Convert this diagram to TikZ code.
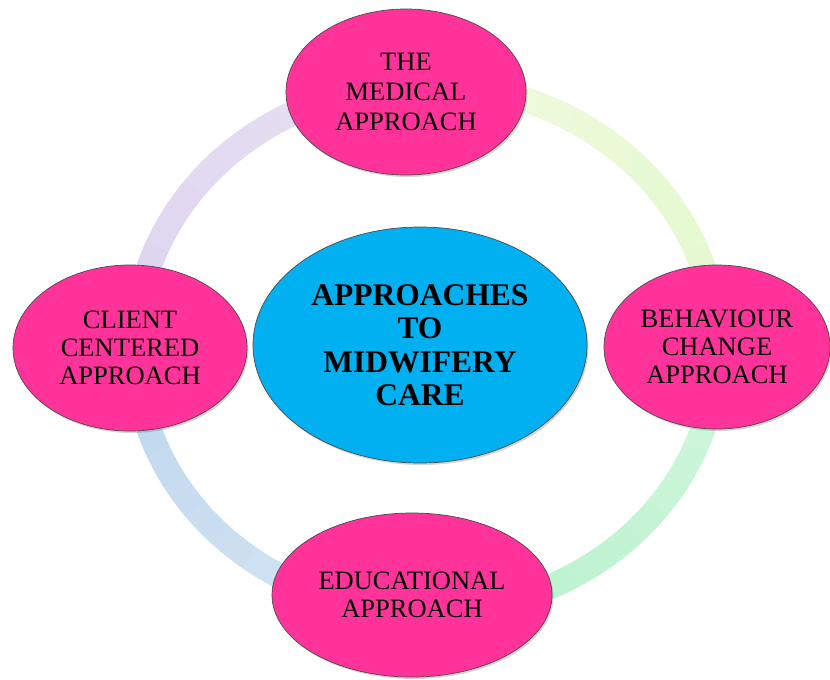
\documentclass[tikz,border=0pt]{standalone}
\usepackage{fontspec}
\setmainfont{Liberation Serif}
\usetikzlibrary{shapes.geometric,shadows}
\definecolor{pinkfill}{HTML}{FF3399}
\definecolor{bluefill}{HTML}{00B0F0}
\definecolor{edgegray}{HTML}{4A4A4A}
\definecolor{ringA1}{HTML}{D2F6DC}
\definecolor{ringA2}{HTML}{B5F2CC}
\definecolor{ringB1}{HTML}{BDD7EE}
\definecolor{ringB2}{HTML}{D8E6F4}
\definecolor{ringC1}{HTML}{DCD3EE}
\definecolor{ringC2}{HTML}{E9E2F4}
\definecolor{ringD1}{HTML}{F0FAE0}
\definecolor{ringD2}{HTML}{E2F8CB}
\tikzset{
  bubble/.style={ellipse, draw=edgegray, line width=0.7pt, fill=pinkfill,
    inner sep=0pt, align=center,
    font=\fontsize{26.5}{28}\selectfont,
    drop shadow={shadow xshift=1.5pt, shadow yshift=-2pt, opacity=0.35}},
  hub/.style={ellipse, draw=edgegray, line width=0.7pt, fill=bluefill,
    inner sep=0pt, align=center,
    font=\fontsize{31.5}{33.5}\selectfont\bfseries,
    drop shadow={shadow xshift=1.5pt, shadow yshift=-2pt, opacity=0.35}},
  ringseg/.style={line width=25pt}
}
\begin{document}
\begin{tikzpicture}[x=1pt,y=-1pt]
\useasboundingbox (0,0) rectangle (830,680);
\coordinate (rc) at (426,348);
% ring (angles: 0 right, 90 bottom, 180 left, 270 top)
\foreach \q/\ca/\cb in {0/ringA1/ringA2, 90/ringB2/ringB1, 180/ringC1/ringC2, 270/ringD1/ringD2}{
  \foreach \i in {0,...,11}{
    \pgfmathsetmacro{\sa}{\q+\i*7.5}
    \pgfmathsetmacro{\ea}{\q+(\i+1)*7.5+0.4}
    \pgfmathsetmacro{\pc}{100-\i*100/11}
    \draw[ringseg, color=\ca!\pc!\cb] ([shift={(\sa:291 and 264)}]rc)
      arc[start angle=\sa, end angle=\ea, x radius=291, y radius=264];
  }
}
\node[hub, minimum width=334pt, minimum height=236pt] (hubnode) at (420,345)
  {APPROACHES\\TO\\MIDWIFERY\\CARE};
\node[bubble, minimum width=240pt, minimum height=166pt,
  font=\fontsize{26.5}{30}\selectfont] (medical) at (406,92)
  {THE\\MEDICAL\\APPROACH};
\node[bubble, minimum width=234pt, minimum height=166pt] (client) at (130,348)
  {CLIENT\\CENTERED\\APPROACH};
\node[bubble, minimum width=226pt, minimum height=164pt] (behaviour) at (717,347)
  {BEHAVIOUR\\CHANGE\\APPROACH};
\node[bubble, minimum width=280pt, minimum height=164pt] (educational) at (412,595)
  {EDUCATIONAL\\APPROACH};
\end{tikzpicture}
\end{document}
